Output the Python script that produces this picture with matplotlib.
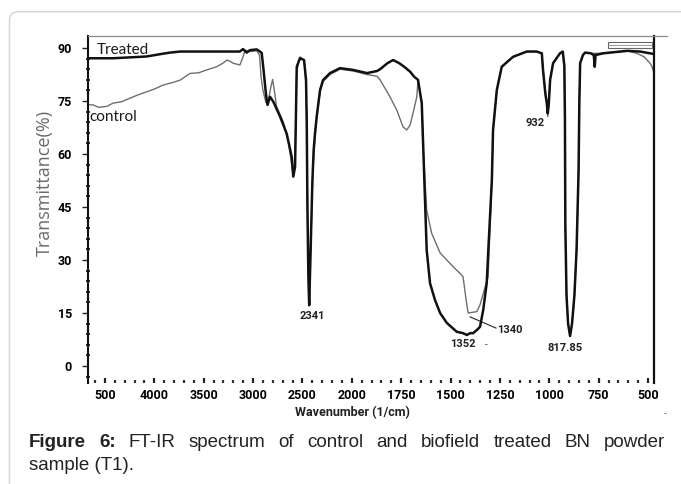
import matplotlib
matplotlib.use('Agg')
import matplotlib.pyplot as plt
import numpy as np
from matplotlib.patches import FancyBboxPatch, Rectangle
from matplotlib.lines import Line2D
from matplotlib.transforms import IdentityTransform

# ---------------- data ----------------
treated_wn = [4690, 4420, 4080, 3910, 3840, 3740, 3400, 3135, 3102, 3065, 3031, 2963, 2930, 2913,
              2895, 2870, 2854, 2829, 2795, 2727, 2660, 2609, 2593, 2575, 2558, 2525, 2484, 2464,
              2457, 2450, 2440, 2432, 2420, 2400, 2387, 2373, 2356, 2322, 2292, 2221, 2120, 1994,
              1923, 1872, 1857, 1820, 1791, 1760, 1735, 1705, 1685, 1665, 1646, 1638, 1621, 1604,
              1579, 1553, 1519, 1469, 1437, 1418, 1401, 1386, 1367, 1351, 1335, 1317, 1309, 1291,
              1285, 1266, 1241, 1184, 1114, 1064, 1038, 1032, 1020, 1013, 1008, 1003, 996, 981,
              946, 932, 924, 921, 919, 913, 905, 895, 885, 873, 862, 852, 848, 844, 830, 819,
              790, 775, 770, 766, 728, 606, 540, 490, 470]
treated_t = [87.1, 87.1, 87.6, 88.4, 88.7, 89.0, 89.0, 89.0, 89.7, 88.7, 89.4, 89.6, 89.0, 88.6,
             84.0, 77.0, 73.9, 76.2, 74.8, 70.6, 65.8, 59.2, 53.6, 56.4, 84.7, 87.1, 86.6, 81.0,
             70.0, 45.0, 25.0, 17.2, 30.0, 52.0, 61.0, 65.9, 70.6, 78.1, 80.9, 82.9, 84.3, 83.8,
             82.9, 83.5, 84.0, 85.7, 86.6, 85.7, 84.7, 83.3, 81.9, 81.0, 74.4, 61.1, 32.8, 23.4,
             18.7, 15.0, 12.2, 9.7, 9.3, 8.8, 9.3, 9.3, 10.2, 11.1, 15.8, 23.5, 32.8, 52.6,
             66.8, 78.1, 84.7, 87.5, 89.0, 89.0, 88.5, 83.8, 77.0, 74.4, 71.5, 74.0, 81.0, 85.7,
             88.5, 89.0, 85.0, 70.0, 40.0, 20.0, 12.0, 8.5, 12.0, 20.0, 33.0, 55.0, 75.0, 85.7, 88.0, 88.7,
             88.5, 88.0, 84.7, 88.0, 88.5, 89.2, 89.0, 88.5, 88.3]

control_wn = [4690, 4622, 4560, 4480, 4419, 4330, 4247, 4160, 4078, 3990, 3913, 3820, 3740, 3639,
              3550, 3470, 3369, 3300, 3267, 3230, 3203, 3133, 3102, 3082, 3031, 2963, 2935, 2920,
              2900, 2870, 2850, 2820, 2802, 2780, 2762, 2694, 2640, 2600, 2593, 2575, 2560, 2540,
              2525, 2484, 2464, 2455, 2445, 2432, 2415, 2395, 2380, 2356, 2322, 2292, 2221, 2120,
              1994, 1923, 1872, 1857, 1807, 1773, 1741, 1722, 1705, 1690, 1671, 1665, 1646, 1638,
              1621, 1596, 1553, 1487, 1443, 1437, 1421, 1411, 1367, 1351, 1310, 1291, 1285, 1266,
              1241, 1184, 1114, 1064, 1038, 1032, 1013, 1008, 1003, 996, 981, 946, 932, 924, 921,
              919, 913, 905, 895, 885, 873, 862, 852, 848, 844, 830, 819, 790, 728, 606, 556, 520,
              490, 480, 470]
control_t = [74.0, 73.9, 73.2, 73.5, 74.4, 74.8, 75.8, 76.8, 77.6, 78.5, 79.5, 80.2, 80.9, 82.8,
             83.0, 83.8, 84.7, 85.8, 86.6, 86.2, 85.7, 85.2, 87.5, 89.4, 89.0, 89.2, 88.0, 82.0,
             78.0, 74.5, 74.5, 79.0, 81.1, 77.0, 73.4, 69.1, 63.0, 55.0, 54.0, 58.0, 82.0, 86.5,
             87.5, 86.5, 80.0, 62.0, 35.0, 18.0, 35.0, 55.0, 62.0, 70.0, 77.5, 80.5, 82.5, 84.0,
             83.5, 82.5, 82.0, 81.0, 76.2, 72.5, 67.7, 66.8, 68.2, 71.6, 76.2, 81.0, 74.4, 61.0,
             44.1, 37.6, 32.0, 28.1, 25.7, 25.3, 18.6, 15.0, 15.4, 17.3, 25.3, 52.6, 66.8, 78.1,
             84.7, 87.5, 89.0, 89.0, 88.5, 83.8, 74.4, 70.6, 74.0, 81.0, 85.7, 88.5, 89.0, 85.0, 70.0,
             40.0, 20.0, 12.0, 8.5, 12.0, 20.0, 33.0, 55.0, 75.0, 85.7, 88.0, 88.7, 88.5, 88.5, 89.2, 88.5, 87.5,
             85.7, 84.7, 83.0]

xtick_values = [4500, 4000, 3500, 3000, 2500, 2000, 1750, 1500, 1250, 1000, 750, 500]
xtick_labels = ["500", "4000", "3500", "3000", "2500", "2000", "1750", "1500", "1250", "1000", "750", "500"]
ytick_values = [0, 15, 30, 45, 60, 75, 90]

peak_labels = ["2341", "1352", "1340", "932", "817.85"]
peak_pos = [(2403, 14.1), (1437, 6.2), (1199, 10.2), (1072, 68.9), (920, 5.1)]

# ---------------- figure ----------------
W, H = 681, 484
fig = plt.figure(figsize=(W / 100, H / 100), dpi=100)
fig.patch.set_facecolor('white')


def fx(px):
    return px / W


def fy(py):
    return 1 - py / H


frame = FancyBboxPatch((9.5, -30), 720, H - 11.7 + 30,
                       boxstyle="round,pad=0,rounding_size=9",
                       transform=IdentityTransform(), facecolor='none',
                       edgecolor='#d4d4d4', linewidth=1.0, clip_on=False)
fig.patches.append(frame)

ax = fig.add_axes([fx(88), fy(383), (654 - 88) / W, (383 - 36) / H])


def fwd(w):
    w = np.asarray(w, dtype=float)
    return np.where(w <= 2000, (w - 500) / 250.0, 6 + (w - 2000) / 500.0)


def inv(u):
    u = np.asarray(u, dtype=float)
    return np.where(u <= 6, 500 + 250 * u, 2000 + 500 * (u - 6))


ax.set_xscale('function', functions=(fwd, inv))

ax.plot(control_wn, control_t, color='#6e6e6e', lw=1.0, zorder=2)
ax.plot(treated_wn, treated_t, color='#111111', lw=1.8, zorder=3)

ax.set_xlim(4672, 470)
ax.set_ylim(-4.8, 93.4)

boldfont = ['Roboto', 'DejaVu Sans']
ax.set_xticks(xtick_values)
ax.set_xticklabels(xtick_labels, fontsize=9, fontweight='bold', family=boldfont)
minor = list(range(4600, 2000, -100)) + list(range(2000, 450, -50))
ax.set_xticks(minor, minor=True)
ax.set_yticks(ytick_values)
ax.set_yticklabels([str(v) for v in ytick_values], fontsize=9, fontweight='bold', family=boldfont)
ax.set_yticks(np.arange(-3, 93, 3), minor=True)

ax.tick_params(axis='x', which='major', direction='in', length=3.5, width=1.6, pad=4.5, color='#222')
ax.tick_params(axis='x', which='minor', direction='in', length=2.5, width=1.6, color='#333')
ax.tick_params(axis='y', which='major', direction='out', length=4.5, width=1.0, pad=7, color='#222')
ax.tick_params(axis='y', which='minor', direction='inout', length=2.5, width=1.4, color='#333')

ax.spines['bottom'].set_visible(False)
ax.spines['left'].set_color('#111')
ax.spines['left'].set_linewidth(1.5)
ax.spines['right'].set_color('#111')
ax.spines['right'].set_linewidth(1.6)
ax.spines['top'].set_color('#8a8a8a')
ax.spines['top'].set_linewidth(0.9)

fig.lines.append(Line2D([fx(654), fx(667)], [fy(36), fy(36)], color='#8a8a8a', lw=0.9,
                        transform=fig.transFigure))

ax.add_patch(Rectangle((0.919, 0.966), 0.077, 0.018, transform=ax.transAxes,
                       facecolor='white', edgecolor='#666', lw=0.8, zorder=4))
ax.plot([0.919, 0.996], [0.975, 0.975], transform=ax.transAxes, color='#888', lw=0.6, zorder=5)

labelfont = ['Lato', 'DejaVu Sans']
ax.text(4581, 89.4, "Treated", fontsize=11, family=labelfont, color='#1a1a1a', va='center', ha='left')
ax.text(4662, 70.5, "control", fontsize=11, family=labelfont, color='#1a1a1a', va='center', ha='left')

for lab, (px_, py_) in zip(peak_labels, peak_pos):
    ax.text(px_, py_, lab, fontsize=8, fontweight='bold', family=boldfont, color='#222',
            ha='center', va='center')
ax.text(1320, 5.9, "-", fontsize=7, family=boldfont, color='#444', ha='center', va='center')
ax.plot([1401, 1270], [13.9, 10.75], color='#222', lw=0.8)

fig.text(fx(45), fy(183), "Transmittance(%)", rotation=90, fontsize=13,
         family=['Open Sans', 'DejaVu Sans'], color='#6a6a6a', ha='center', va='center')
fig.text(fx(352), fy(413), "Wavenumber (1/cm)", fontsize=9, fontweight='bold',
         family=boldfont, color='#222', ha='center', va='center')
fig.text(fx(665), fy(414), "-", fontsize=6, color='#555', ha='center', va='center')

capfam = ['Liberation Sans Narrow', 'Liberation Sans', 'DejaVu Sans']
fig.canvas.draw()
renderer = fig.canvas.get_renderer()
words = ["Figure", "6:", "FT-IR", "spectrum", "of", "control", "and", "biofield", "treated", "BN", "powder"]
weights = ['bold', 'bold'] + ['normal'] * 9
texts, widths = [], []
for wd, wt in zip(words, weights):
    t = fig.text(0, 0, wd, fontsize=13.5, fontweight=wt, family=capfam, color='#222',
                 ha='left', va='baseline')
    texts.append(t)
    widths.append(t.get_window_extent(renderer=renderer).width)
x0, x1 = 29, 665
gap = (x1 - x0 - sum(widths)) / (len(words) - 1)
xx = x0
for t, wdt in zip(texts, widths):
    t.set_position((fx(xx), fy(447)))
    xx += wdt + gap
fig.text(fx(29), fy(470), "sample (T1).", fontsize=13.5, family=capfam, color='#222',
         ha='left', va='baseline')

fig.savefig('out.png', dpi=100)
